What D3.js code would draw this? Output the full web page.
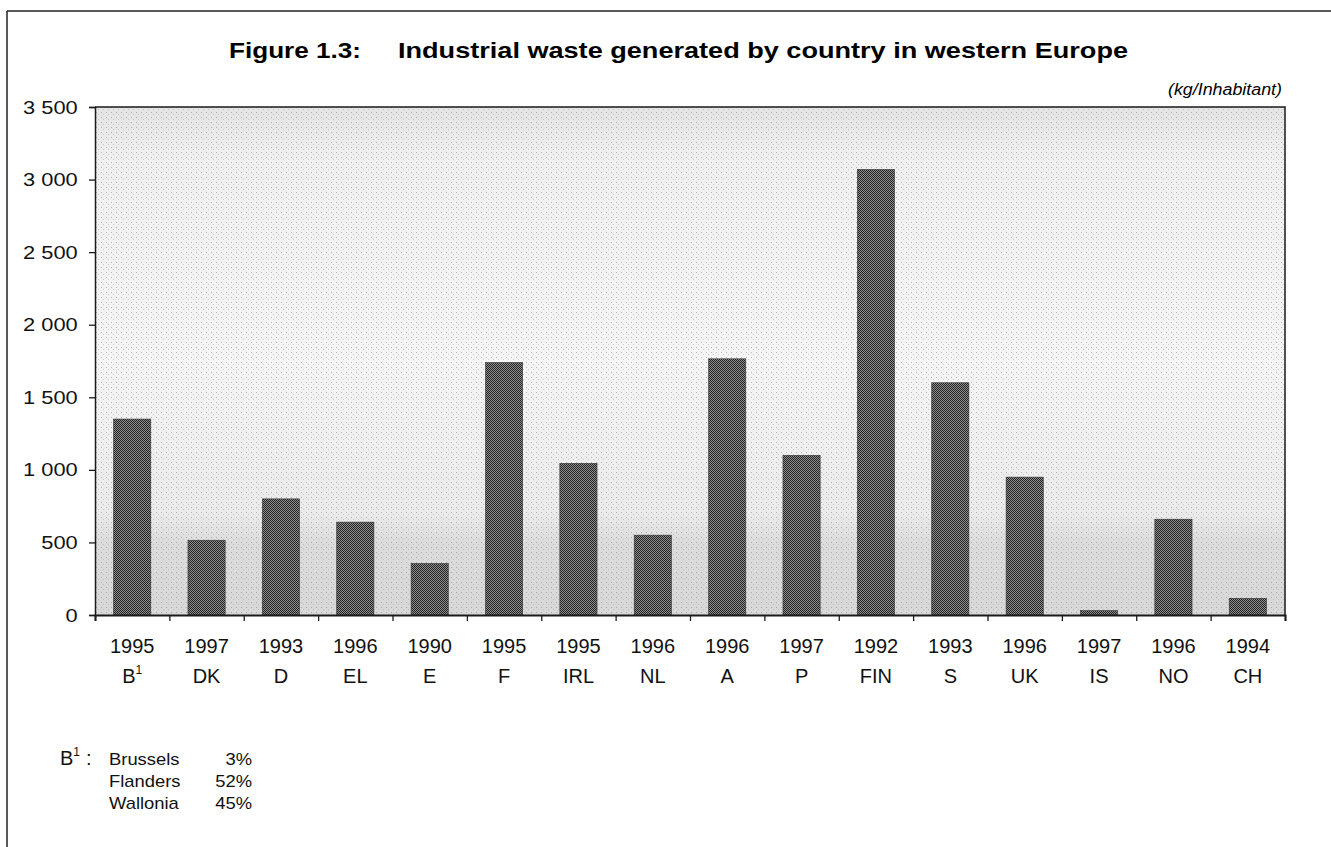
<!DOCTYPE html>
<html>
<head>
<meta charset="utf-8">
<script src="https://cdn.jsdelivr.net/npm/d3@7"></script>
<style>
  html, body { margin: 0; padding: 0; background: #fff; }
  svg { display: block; font-family: "Liberation Sans", Arial, sans-serif; }
</style>
</head>
<body>
<div id="chart"></div>
<script>
// chart values
const years = ['1995', '1997', '1993', '1996', '1990', '1995', '1995', '1996',
               '1996', '1997', '1992', '1993', '1996', '1997', '1996', '1994'];
const countries = ['B', 'DK', 'D', 'EL', 'E', 'F', 'IRL', 'NL',
                   'A', 'P', 'FIN', 'S', 'UK', 'IS', 'NO', 'CH'];
const values = [1350, 515, 800, 640, 355, 1740, 1045, 550,
                1765, 1100, 3070, 1600, 950, 30, 660, 115];
const yTicks = [0, 500, 1000, 1500, 2000, 2500, 3000, 3500];
const yTickLabels = ['0', '500', '1 000', '1 500', '2 000', '2 500', '3 000', '3 500'];
const regions = ['Brussels', 'Flanders', 'Wallonia'];
const shares = ['3%', '52%', '45%'];

const width = 1331, height = 847;
const plot = { left: 95, right: 1285, top: 107, bottom: 615 };

const svg = d3.select('#chart').append('svg')
    .attr('width', width)
    .attr('height', height);

const defs = svg.append('defs');

// halftone look for the bars
const barPat = defs.append('pattern')
    .attr('id', 'barPat')
    .attr('width', 2).attr('height', 2)
    .attr('patternUnits', 'userSpaceOnUse');
barPat.append('rect').attr('width', 2).attr('height', 2).attr('fill', '#8f8f8f');
barPat.append('rect').attr('width', 1).attr('height', 1).attr('fill', '#222');
barPat.append('rect').attr('x', 1).attr('y', 1).attr('width', 1).attr('height', 1).attr('fill', '#222');

// light stipple for the plot background
const bgGrad = defs.append('linearGradient')
    .attr('id', 'bgGrad')
    .attr('x1', 0).attr('y1', 0).attr('x2', 0).attr('y2', 1);
[[0, '#e4e4e4'], [0.1, '#f0f0f0'], [0.5, '#f5f5f5'], [0.8, '#ebebeb'], [0.86, '#dcdcdc'], [1, '#d8d8d8']]
    .forEach(([o, c]) => bgGrad.append('stop').attr('offset', o).attr('stop-color', c));

const dotPat = defs.append('pattern')
    .attr('id', 'dotPat')
    .attr('width', 5).attr('height', 5)
    .attr('patternUnits', 'userSpaceOnUse');
dotPat.append('rect').attr('x', 1).attr('y', 2).attr('width', 1).attr('height', 1).attr('fill', '#777');
dotPat.append('rect').attr('x', 3).attr('y', 4).attr('width', 1).attr('height', 1).attr('fill', '#a0a0a0');

// outer frame (top and left edges only visible)
svg.append('line')
    .attr('x1', 7).attr('y1', 11).attr('x2', width).attr('y2', 11)
    .attr('stroke', '#222').attr('stroke-width', 1.5);
svg.append('line')
    .attr('x1', 7).attr('y1', 11).attr('x2', 7).attr('y2', height)
    .attr('stroke', '#222').attr('stroke-width', 1.5);

// title
svg.append('text')
    .attr('x', 229).attr('y', 58)
    .attr('font-size', 22).attr('font-weight', 'bold')
    .attr('textLength', 132).attr('lengthAdjust', 'spacingAndGlyphs')
    .text('Figure 1.3:');
svg.append('text')
    .attr('x', 398).attr('y', 58)
    .attr('font-size', 22).attr('font-weight', 'bold')
    .attr('textLength', 730).attr('lengthAdjust', 'spacingAndGlyphs')
    .text('Industrial waste generated by country in western Europe');

svg.append('text')
    .attr('x', 1282).attr('y', 95)
    .attr('text-anchor', 'end')
    .attr('font-size', 16).attr('font-style', 'italic')
    .attr('textLength', 114).attr('lengthAdjust', 'spacingAndGlyphs')
    .text('(kg/Inhabitant)');

// scales
const x = d3.scaleBand()
    .domain(d3.range(countries.length))
    .range([plot.left, plot.right])
    .paddingInner(0.5)
    .paddingOuter(0.25);

const xEdges = d3.scaleLinear()
    .domain([0, countries.length])
    .range([plot.left, plot.right]);

const y = d3.scaleLinear()
    .domain([0, 3500])
    .range([plot.bottom, plot.top]);

// plot background
svg.append('rect')
    .attr('x', plot.left).attr('y', plot.top)
    .attr('width', plot.right - plot.left).attr('height', plot.bottom - plot.top)
    .attr('fill', 'url(#bgGrad)');
svg.append('rect')
    .attr('x', plot.left).attr('y', plot.top)
    .attr('width', plot.right - plot.left).attr('height', plot.bottom - plot.top)
    .attr('fill', 'url(#dotPat)').attr('opacity', 0.5);

// bars
svg.append('g')
    .selectAll('rect')
    .data(values)
    .enter()
    .append('rect')
    .attr('x', (d, i) => x(i))
    .attr('y', d => y(d))
    .attr('width', x.bandwidth())
    .attr('height', d => y(0) - y(d))
    .attr('fill', 'url(#barPat)')
    .attr('stroke', '#333')
    .attr('stroke-width', 0.6);

// plot frame top and right
svg.append('path')
    .attr('d', `M${plot.left},${plot.top}H${plot.right}V${plot.bottom}`)
    .attr('fill', 'none')
    .attr('stroke', '#1a1a1a')
    .attr('stroke-width', 1.5);

// y axis
const yAxis = svg.append('g')
    .attr('transform', `translate(${plot.left},0)`)
    .call(d3.axisLeft(y)
        .tickValues(yTicks)
        .tickSize(6)
        .tickPadding(9)
        .tickFormat((d, i) => yTickLabels[i]));
yAxis.select('.domain').attr('stroke', '#1a1a1a').attr('stroke-width', 1.5);
yAxis.selectAll('.tick line').attr('stroke', '#1a1a1a').attr('stroke-width', 1.3);
yAxis.selectAll('.tick text')
    .attr('font-size', 19)
    .attr('font-family', '"Liberation Sans", Arial, sans-serif')
    .attr('fill', '#111')
    .attr('transform', 'scale(1.15,1)');

// x axis: ticks between categories
const xAxis = svg.append('g')
    .attr('transform', `translate(0,${plot.bottom})`)
    .call(d3.axisBottom(xEdges)
        .tickValues(d3.range(countries.length + 1))
        .tickSize(6)
        .tickFormat(''));
xAxis.select('.domain').attr('stroke', '#1a1a1a').attr('stroke-width', 2);
xAxis.selectAll('.tick line').attr('stroke', '#1a1a1a').attr('stroke-width', 1.3);

// category labels (year over country code)
const labels = svg.append('g')
    .selectAll('g')
    .data(countries)
    .enter()
    .append('g')
    .attr('transform', (d, i) => `translate(${x(i) + x.bandwidth() / 2},0)`);

labels.append('text')
    .attr('y', 653)
    .attr('text-anchor', 'middle')
    .attr('font-size', 20)
    .attr('fill', '#111')
    .text((d, i) => years[i]);

const codeText = labels.append('text')
    .attr('y', 683)
    .attr('text-anchor', 'middle')
    .attr('font-size', 20)
    .attr('fill', '#111');
codeText.append('tspan').text(d => d);
codeText.filter(d => d === 'B')
    .append('tspan')
    .attr('font-size', 12)
    .attr('dy', -9)
    .text('1');

// footnote on Belgium
const note = svg.append('g');
const noteB = note.append('text')
    .attr('x', 60).attr('y', 765)
    .attr('font-size', 20)
    .attr('fill', '#111');
noteB.append('tspan').text('B');
noteB.append('tspan').attr('font-size', 12).attr('dy', -9).text('1');
note.append('text')
    .attr('x', 86).attr('y', 765)
    .attr('font-size', 20)
    .attr('fill', '#111')
    .text(':');

regions.forEach((r, i) => {
    const yy = 765 + i * 22;
    note.append('text')
        .attr('transform', `translate(109,${yy}) scale(1.15,1)`)
        .attr('font-size', 16)
        .attr('fill', '#111')
        .text(r);
    note.append('text')
        .attr('transform', `translate(252,${yy}) scale(1.15,1)`)
        .attr('text-anchor', 'end')
        .attr('font-size', 16)
        .attr('fill', '#111')
        .text(shares[i]);
});
</script>
</body>
</html>
